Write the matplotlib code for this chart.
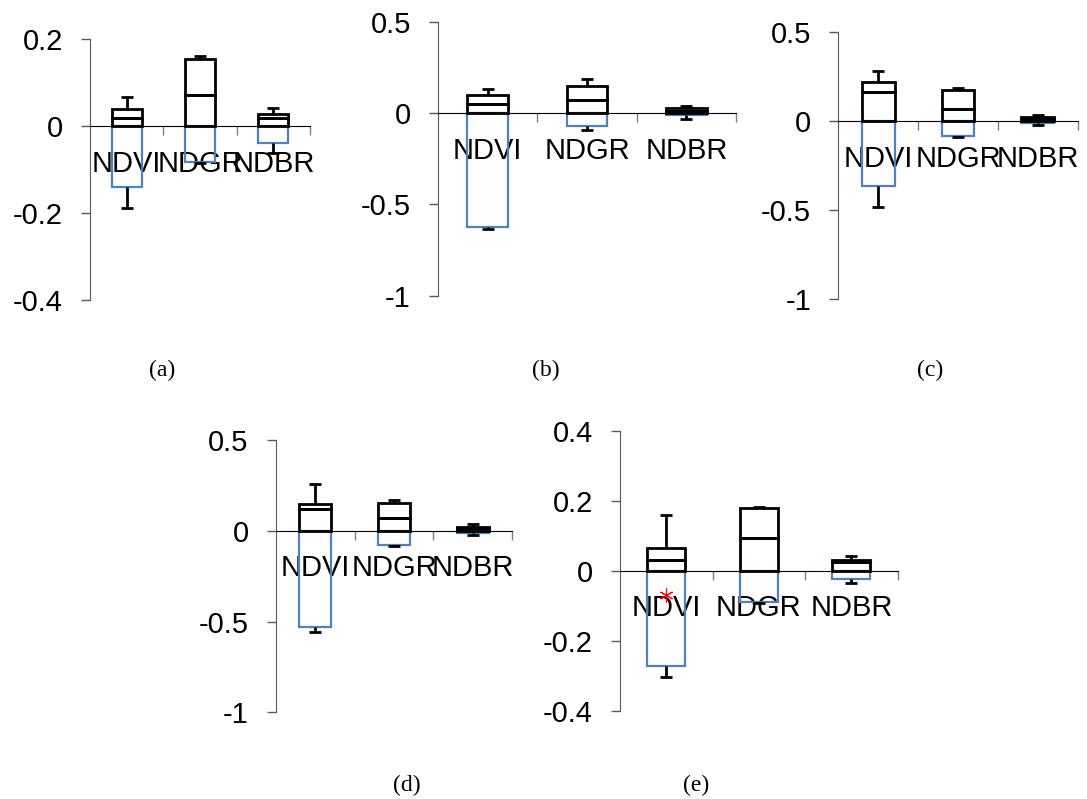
import numpy as np
import matplotlib
matplotlib.use('Agg')
import matplotlib.pyplot as plt

plt.rcParams['font.family'] = ['Liberation Sans', 'DejaVu Sans']
plt.rcParams['axes.unicode_minus'] = False

## Data
categories = ['NDVI', 'NDGR', 'NDBR']

a_min = [-0.189, -0.085, -0.061]
a_q1 = [-0.141, -0.083, -0.038]
a_med = [0.018, 0.072, 0.018]
a_q3 = [0.038, 0.153, 0.028]
a_max = [0.066, 0.161, 0.042]
a_ticks = [-0.4, -0.2, 0, 0.2]

b_min = [-0.633, -0.091, -0.031]
b_q1 = [-0.624, -0.069, -0.009]
b_med = [0.047, 0.069, 0.013]
b_q3 = [0.100, 0.149, 0.027]
b_max = [0.131, 0.187, 0.036]
b_ticks = [-1, -0.5, 0, 0.5]

c_min = [-0.482, -0.088, -0.022]
c_q1 = [-0.366, -0.083, -0.009]
c_med = [0.163, 0.069, 0.014]
c_q3 = [0.221, 0.178, 0.024]
c_max = [0.283, 0.187, 0.034]
c_ticks = [-1, -0.5, 0, 0.5]

d_min = [-0.556, -0.084, -0.024]
d_q1 = [-0.528, -0.079, -0.011]
d_med = [0.118, 0.068, 0.013]
d_q3 = [0.147, 0.154, 0.022]
d_max = [0.255, 0.169, 0.037]
d_ticks = [-1, -0.5, 0, 0.5]

e_min = [-0.305, -0.092, -0.034]
e_q1 = [-0.272, -0.090, -0.024]
e_med = [0.032, 0.094, 0.025]
e_q3 = [0.065, 0.178, 0.031]
e_max = [0.160, 0.182, 0.042]
e_ticks = [-0.4, -0.2, 0, 0.2, 0.4]
e_outlier_cat = [0]
e_outlier_val = [-0.069]

BLUE = '#4f81bd'
W, H = 1087, 799


def px_axes(left, right, top, bottom):
    '''axes rectangle from pixel edges'''
    return [left / W, 1 - bottom / H, (right - left) / W, (bottom - top) / H]


def boxplot_panel(ax, mins, q1, med, q3, maxs, ticks):
    x = np.arange(len(categories))
    q1 = np.array(q1)
    med = np.array(med)
    q3 = np.array(q3)
    wid = 0.41
    # lower part of box (blue), upper part split at the median (black)
    ax.bar(x, q1, wid, fill=False, edgecolor=BLUE, linewidth=1.6, zorder=3)
    ax.bar(x, med, wid, fill=False, edgecolor='black', linewidth=2, zorder=4)
    ax.bar(x, q3 - med, wid, bottom=med, fill=False, edgecolor='black',
           linewidth=2, zorder=4)
    # whiskers
    ax.vlines(x, q3, maxs, color='black', linewidth=2, zorder=4)
    ax.vlines(x, mins, q1, color='black', linewidth=2, zorder=4)
    ax.plot(x, maxs, ls='none', marker='_', ms=8.6, mew=2, color='black', zorder=4)
    ax.plot(x, mins, ls='none', marker='_', ms=8.6, mew=2, color='black', zorder=4)

    ax.set_xlim(-0.5, len(categories) - 0.5)
    ax.set_ylim(ticks[0], ticks[-1])
    ax.set_yticks(ticks)
    ax.set_yticklabels(['%g' % t for t in ticks])
    ax.tick_params(axis='y', direction='out', length=6.5, width=1,
                   color='#595959', labelsize=21, pad=13)

    ax.set_xticks(x + 0.5)
    ax.set_xticklabels([''] * len(x))
    ax.set_xticks(x, minor=True)
    ax.set_xticklabels(categories, minor=True)
    ax.tick_params(axis='x', which='major', direction='out', length=6.5,
                   width=1, color='#7f7f7f')
    ax.tick_params(axis='x', which='minor', length=0, labelsize=21, pad=17)

    ax.spines['top'].set_visible(False)
    ax.spines['right'].set_visible(False)
    ax.spines['left'].set_color('#595959')
    ax.spines['bottom'].set_position(('data', 0))
    ax.spines['bottom'].set_color('black')
    ax.patch.set_visible(False)


fig = plt.figure(figsize=(W / 100, H / 100), dpi=100)

ax_a = fig.add_axes(px_axes(90, 310, 39, 300))
boxplot_panel(ax_a, a_min, a_q1, a_med, a_q3, a_max, a_ticks)

ax_b = fig.add_axes(px_axes(438, 736, 21.7, 295.7))
boxplot_panel(ax_b, b_min, b_q1, b_med, b_q3, b_max, b_ticks)

ax_c = fig.add_axes(px_axes(838.3, 1077.7, 32.3, 299))
boxplot_panel(ax_c, c_min, c_q1, c_med, c_q3, c_max, c_ticks)

ax_d = fig.add_axes(px_axes(275.7, 512.3, 440, 712.3))
boxplot_panel(ax_d, d_min, d_q1, d_med, d_q3, d_max, d_ticks)

ax_e = fig.add_axes(px_axes(620, 897.7, 430.7, 710.7))
boxplot_panel(ax_e, e_min, e_q1, e_med, e_q3, e_max, e_ticks)
ax_e.plot(e_outlier_cat, e_outlier_val, ls='none', marker=(6, 2, 0), ms=10,
          mew=0.8, color='red', zorder=6)

# panel captions
for lbl, cx, cy in [('(a)', 162, 370), ('(b)', 546, 370), ('(c)', 930, 370),
                    ('(d)', 407, 785), ('(e)', 696, 785)]:
    fig.text(cx / W, 1 - cy / H, lbl, ha='center', va='center',
             fontsize=17, family='Liberation Serif')

fig.savefig('out.png', dpi=100)
